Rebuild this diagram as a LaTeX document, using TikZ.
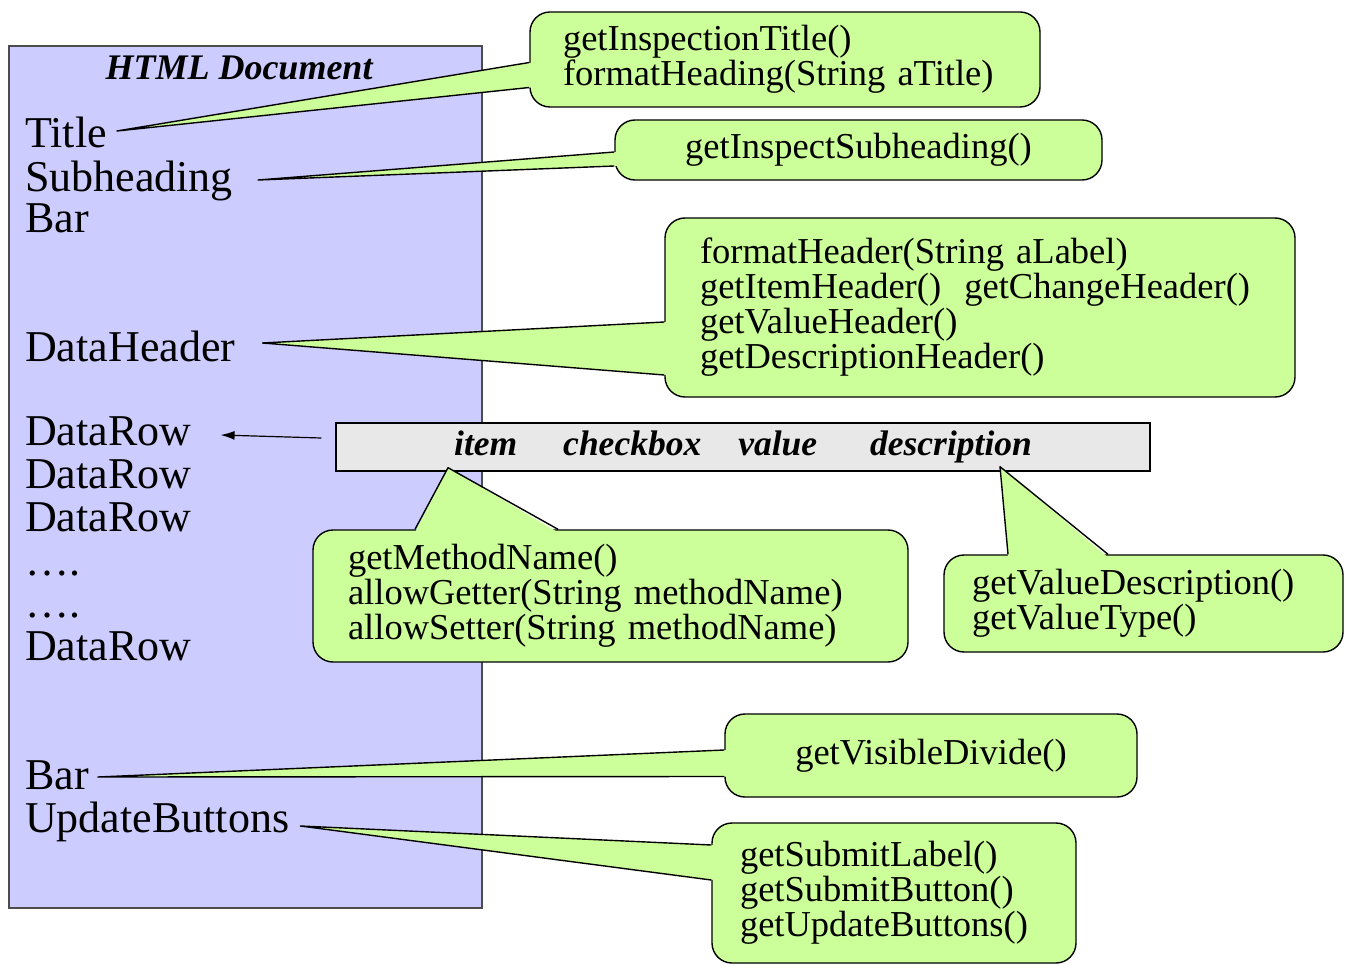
\documentclass[tikz,border=0pt]{standalone}
\usepackage{fontspec}
\setmainfont{Liberation Serif}
\usetikzlibrary{arrows.meta}
\definecolor{docblue}{RGB}{204,204,255}
\definecolor{callgreen}{RGB}{204,255,153}
\definecolor{bargray}{RGB}{232,232,232}
\begin{document}
\begin{tikzpicture}[x=1pt, y=-1pt, >={Latex[length=14pt,width=9pt]},
    part/.style={anchor=base west, inner sep=0pt, font=\fontsize{44}{44}\selectfont},
    callbox/.style={draw, line width=1.4pt, fill=callgreen, rounded corners=20pt,
        inner ysep=0pt, align=left, font=\fontsize{36.5}{35}\selectfont},
    edge/.style={line width=1.4pt, line join=round}]
        \useasboundingbox (0,0) rectangle (1346,965);

        % HTML document and its parts
        \node[draw=black!70, line width=1.4pt, fill=docblue, minimum width=473pt, minimum height=862pt] (doc) at (245.5,477) {};
        \node[anchor=base, inner sep=0pt, font=\fontsize{36}{36}\selectfont\bfseries\itshape] (doctitle) at (239,80) {HTML Document};
        \node[part] (title) at (25,148) {Title};
        \node[part] (subhead) at (25,192) {Subheading};
        \node[part] (bar1) at (25,233) {Bar};
        \node[part] (dataheader) at (25,362) {DataHeader};
        \node[part] (row1) at (25,445) {DataRow};
        \node[part] (row2) at (25,488) {DataRow};
        \node[part] (row3) at (25,531) {DataRow};
        \node[part] (dots1) at (25,575) {….};
        \node[part] (dots2) at (25,617) {….};
        \node[part] (rown) at (25,660) {DataRow};
        \node[part] (bar2) at (25,789) {Bar};
        \node[part] (buttons) at (25,832) {UpdateButtons};

        % one data row
        \node[draw, line width=1.4pt, fill=bargray, minimum width=814pt, minimum height=48pt, inner sep=0pt,
            font=\fontsize{35.5}{35.5}\selectfont\bfseries\itshape] (row) at (743,447)
            {item\hspace{46pt}checkbox\hspace{37pt}value\hspace{53pt}description};
        \draw[<-, line width=1.2pt] ([xshift=29pt,yshift=10pt]row1.base east) -- ([xshift=-14pt,yshift=9pt]row.west);

        % callouts with the methods
        \node[callbox, text width=444pt, inner xsep=33pt, minimum height=95pt] (c1) at (785,59.5)
            {getInspectionTitle()\\formatHeading(String aTitle)};
        \node[callbox, align=center, text width=447pt, inner xsep=20pt, minimum height=60pt] (c2) at (858.5,150)
            {getInspectSubheading()};
        \node[callbox, text width=560pt, inner xsep=35pt, minimum height=179pt] (c3) at (980,307.5)
            {formatHeader(String aLabel)\\\mbox{getItemHeader()\hspace{0.3em} getChangeHeader()}\\getValueHeader()\\getDescriptionHeader()};
        \node[callbox, text width=525pt, inner xsep=35pt, minimum height=132pt] (c4) at (610.5,596)
            {getMethodName()\\allowGetter(String methodName)\\allowSetter(String methodName)};
        \node[callbox, text width=343pt, inner xsep=28pt, minimum height=97pt] (c5) at (1143.5,603.5)
            {getValueDescription()\\getValueType()};
        \node[callbox, align=center, text width=372pt, inner xsep=20pt, minimum height=83pt] (c6) at (931,755.5)
            {getVisibleDivide()};
        \node[callbox, text width=308pt, inner xsep=28pt, minimum height=140pt] (c7) at (894,893)
            {getSubmitLabel()\\getSubmitButton()\\getUpdateButtons()};

        % pointer tips
        \coordinate (t1) at ([xshift=10pt,yshift=17pt]title.base east);
        \coordinate (t2) at ([xshift=25pt,yshift=12pt]subhead.base east);
        \coordinate (t3) at ([xshift=27pt,yshift=19pt]dataheader.base east);
        \coordinate (t4) at ([xshift=-295pt,yshift=4pt]row.south);
        \coordinate (t5) at ([xshift=257pt,yshift=5pt]row.south);
        \coordinate (t6) at ([xshift=9pt,yshift=12pt]bar2.base east);
        \coordinate (t7) at ([xshift=11pt,yshift=6pt]buttons.base east);

        % pointers
        \fill[callgreen] ([xshift=3pt,yshift=-3pt]c1.west) -- (t1) -- ([xshift=3pt,yshift=-28pt]c1.west) -- cycle;
        \draw[edge] ([yshift=-3pt]c1.west) -- (t1) -- ([yshift=-28pt]c1.west);
        \fill[callgreen] ([xshift=3pt,yshift=-2pt]c2.west) -- (t2) -- ([xshift=3pt,yshift=-16pt]c2.west) -- cycle;
        \draw[edge] ([yshift=-2pt]c2.west) -- (t2) -- ([yshift=-16pt]c2.west);
        \fill[callgreen] ([xshift=3pt,yshift=-14.5pt]c3.west) -- (t3) -- ([xshift=3pt,yshift=-67.5pt]c3.west) -- cycle;
        \draw[edge] ([yshift=-14.5pt]c3.west) -- (t3) -- ([yshift=-67.5pt]c3.west);
        \fill[callgreen] ([xshift=-195.5pt,yshift=-3pt]c4.north) -- (t4) -- ([xshift=-52.5pt,yshift=-3pt]c4.north) -- cycle;
        \draw[edge] ([xshift=-195.5pt]c4.north) -- (t4) -- ([xshift=-52.5pt]c4.north);
        \fill[callgreen] ([xshift=-135.5pt,yshift=-3pt]c5.north) -- (t5) -- ([xshift=-35.5pt,yshift=-3pt]c5.north) -- cycle;
        \draw[edge] ([xshift=-135.5pt]c5.north) -- (t5) -- ([xshift=-35.5pt]c5.north);
        \fill[callgreen] ([xshift=3pt,yshift=5.5pt]c6.west) -- (t6) -- ([xshift=3pt,yshift=-21pt]c6.west) -- cycle;
        \draw[edge] ([yshift=5.5pt]c6.west) -- (t6) -- ([yshift=-21pt]c6.west);
        \fill[callgreen] ([xshift=3pt,yshift=48pt]c7.west) -- (t7) -- ([xshift=3pt,yshift=13pt]c7.west) -- cycle;
        \draw[edge] ([yshift=48pt]c7.west) -- (t7) -- ([yshift=13pt]c7.west);
    \end{tikzpicture}
\end{document}
